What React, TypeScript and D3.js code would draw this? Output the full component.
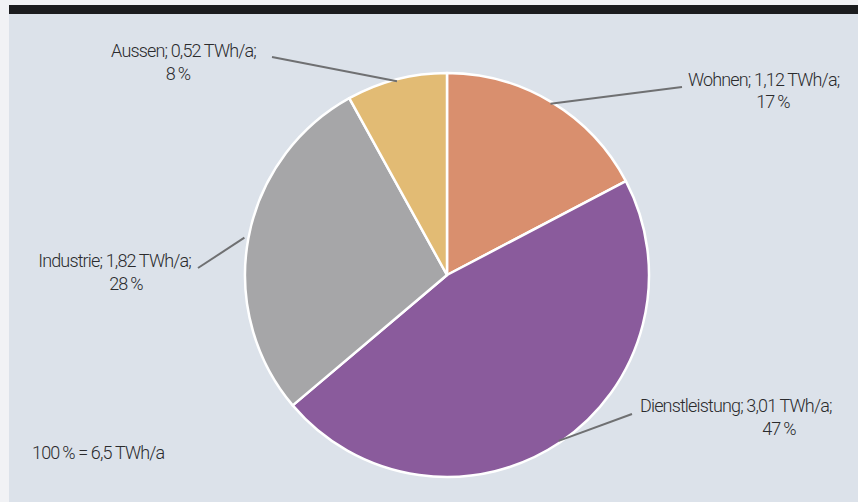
import React from "react";
import * as d3 from "d3";

const categories = ["Wohnen", "Dienstleistung", "Industrie", "Aussen"];
const values = [1.12, 3.01, 1.82, 0.52];
const valueLabels = ["1,12", "3,01", "1,82", "0,52"];
const percentLabels = ["17\u2009%", "47\u2009%", "28\u2009%", "8\u2009%"];
const colors = ["#d98f6e", "#8a5b9c", "#a6a6a8", "#e2bb74"];
const totalLabel = "100\u2009% = 6,5 TWh/a";

const W = 858;
const H = 502;
const cx = 447;
const cy = 275;
const R = 202;

const labelPos = [
  { ex: 682, ey: 87, tx: 688, ty: 86, px: 773, py: 108, anchor: "start" },
  { ex: 632, ey: 414, tx: 640, ty: 412, px: 779, py: 435, anchor: "start" },
  { ex: 198, ey: 268, tx: 191, ty: 267, px: 126, py: 290, anchor: "end" },
  { ex: 272, ey: 57, tx: 256, ty: 57, px: 178, py: 80, anchor: "end" },
];
const lineStartR = [R - 2, R - 2, R + 4, R - 2];

export default function App() {
  const pie = d3.pie<number>().sort(null).value((d) => d)(values);
  const arc = d3.arc<d3.PieArcDatum<number>>().innerRadius(0).outerRadius(R);
  const font = "Roboto, 'Open Sans', sans-serif";
  const textProps = { fontFamily: font, fontWeight: 300, fontSize: 18, letterSpacing: -0.85, fill: "#2b2b2d" };
  return (
    <div style={{ position: "fixed", left: 0, top: 0 }}>
      <svg width={W} height={H} style={{ display: "block" }}>
        <rect x={0} y={0} width={W} height={H} fill="#f1f2f5" />
        <rect x={9} y={14} width={W - 9} height={H - 14} fill="#dce2ea" />
        <rect x={9} y={5} width={W - 9} height={9} fill="#1b1c1e" />
        <g transform={`translate(${cx},${cy})`}>
          {pie.map((p, i) => (
            <path key={categories[i]} d={arc(p) || ""} fill={colors[i]} stroke="#ffffff" strokeWidth={2.5} strokeLinejoin="round" />
          ))}
        </g>
        {pie.map((p, i) => {
          const mid = (p.startAngle + p.endAngle) / 2;
          const lp = labelPos[i];
          const sr = lineStartR[i];
          const sx = cx + sr * Math.sin(mid);
          const sy = cy - sr * Math.cos(mid);
          return (
            <g key={"l" + i}>
              <line x1={sx} y1={sy} x2={lp.ex} y2={lp.ey} stroke="#6f7072" strokeWidth={2} />
              <text x={lp.tx} y={lp.ty} textAnchor={lp.anchor} {...textProps}>
                {`${categories[i]}; ${valueLabels[i]} TWh/a;`}
              </text>
              <text x={lp.px} y={lp.py} textAnchor="middle" {...textProps}>
                {percentLabels[i]}
              </text>
            </g>
          );
        })}
        <text x={32} y={459} {...textProps}>
          {totalLabel}
        </text>
      </svg>
    </div>
  );
}
